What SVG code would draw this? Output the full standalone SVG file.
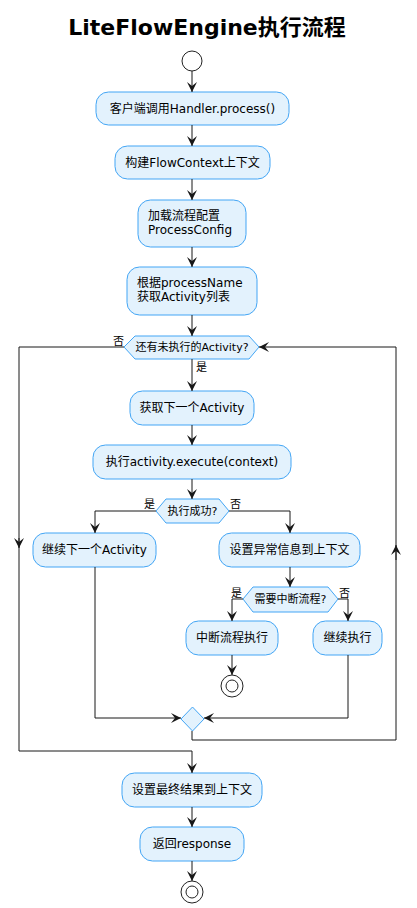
<svg xmlns="http://www.w3.org/2000/svg" width="417" height="908" viewBox="0 0 417 908">
<style>
.box{fill:#E3F2FD;stroke:#42A5F5;stroke-width:1}
.t{font-family:"DejaVu Sans","Noto Sans CJK SC",sans-serif;font-size:12px;fill:#000}
.ht{font-family:"DejaVu Sans","Noto Sans CJK SC",sans-serif;font-size:11px;fill:#000}
.lb{font-family:"DejaVu Sans","Noto Sans CJK SC",sans-serif;font-size:11px;fill:#000}
.c{fill:none;stroke:#181818;stroke-width:1}
.title{font-family:"DejaVu Sans","Noto Sans CJK SC",sans-serif;font-size:22px;font-weight:bold;fill:#000}
</style>
<defs>
<marker id="ah" viewBox="0 0 10 10" refX="10" refY="5" markerWidth="10" markerHeight="10" markerUnits="userSpaceOnUse" orient="auto">
<path d="M10,5 L0,0 L4,5 L0,10 Z" fill="#181818"/>
</marker>
</defs>
<rect width="417" height="908" fill="#fff"/>
<text class="title" x="207" y="35" text-anchor="middle">LiteFlowEngine执行流程</text>

<g id="start"><circle cx="192" cy="61" r="10" fill="#fff" stroke="#222" stroke-width="1"/></g>

<g id="n1"><rect class="box" x="96" y="92" width="193" height="33" rx="12.5"/><text class="t" x="192.5" y="113" text-anchor="middle">客户端调用Handler.process()</text></g>
<g id="n2"><rect class="box" x="115" y="146" width="155" height="33" rx="12.5"/><text class="t" x="192.5" y="167" text-anchor="middle">构建FlowContext上下文</text></g>
<g id="n3"><rect class="box" x="138" y="200" width="108" height="47" rx="12.5"/><text class="t" x="148" y="220">加载流程配置</text><text class="t" x="148" y="234">ProcessConfig</text></g>
<g id="n4"><rect class="box" x="127" y="267" width="130" height="48" rx="12.5"/><text class="t" x="137" y="287">根据processName</text><text class="t" x="137" y="301">获取Activity列表</text></g>
<g id="d1"><polygon class="box" points="124,347 135,336 249,336 259,347 249,359 135,359"/><text class="ht" x="192" y="351" text-anchor="middle">还有未执行的Activity?</text></g>
<g id="n5"><rect class="box" x="130" y="391" width="124" height="34" rx="12.5"/><text class="t" x="192" y="412" text-anchor="middle">获取下一个Activity</text></g>
<g id="n6"><rect class="box" x="93" y="445" width="198" height="34" rx="12.5"/><text class="t" x="192" y="466" text-anchor="middle">执行activity.execute(context)</text></g>
<g id="d2"><polygon class="box" points="156,511 166,499 219,499 229,511 219,523 166,523"/><text class="ht" x="192.5" y="515" text-anchor="middle">执行成功?</text></g>
<g id="n7"><rect class="box" x="33" y="533" width="123" height="34" rx="12.5"/><text class="t" x="94.5" y="554" text-anchor="middle">继续下一个Activity</text></g>
<g id="n8"><rect class="box" x="219" y="533" width="141" height="34" rx="12.5"/><text class="t" x="289.5" y="554" text-anchor="middle">设置异常信息到上下文</text></g>
<g id="d3"><polygon class="box" points="243,599 253,587 328,587 338,599 328,612 253,612"/><text class="ht" x="290.5" y="603" text-anchor="middle">需要中断流程?</text></g>
<g id="n9"><rect class="box" x="186" y="621" width="92" height="34" rx="12.5"/><text class="t" x="232" y="642" text-anchor="middle">中断流程执行</text></g>
<g id="n10"><rect class="box" x="313" y="621" width="69" height="34" rx="12.5"/><text class="t" x="347.5" y="642" text-anchor="middle">继续执行</text></g>
<g id="end1"><circle cx="232" cy="686" r="11" fill="#fff" stroke="#222" stroke-width="1"/><circle cx="232" cy="686" r="6" fill="#fff" stroke="#222" stroke-width="1"/></g>
<g id="merge"><polygon class="box" points="192.5,707 204,719 192.5,731 181,719"/></g>
<g id="n11"><rect class="box" x="122" y="773" width="140" height="34" rx="12.5"/><text class="t" x="192" y="794" text-anchor="middle">设置最终结果到上下文</text></g>
<g id="n12"><rect class="box" x="140" y="827" width="104" height="34" rx="12.5"/><text class="t" x="192" y="848" text-anchor="middle">返回response</text></g>
<g id="end2"><circle cx="192" cy="892" r="11" fill="#fff" stroke="#222" stroke-width="1"/><circle cx="192" cy="892" r="6" fill="#fff" stroke="#222" stroke-width="1"/></g>

<g id="connectors">
<path class="c" d="M192,71 V92" marker-end="url(#ah)"/>
<path class="c" d="M192,125 V146" marker-end="url(#ah)"/>
<path class="c" d="M192,179 V200" marker-end="url(#ah)"/>
<path class="c" d="M192,247 V267" marker-end="url(#ah)"/>
<path class="c" d="M192,315 V336" marker-end="url(#ah)"/>
<path class="c" d="M192,359 V391" marker-end="url(#ah)"/>
<text class="lb" x="196" y="371">是</text>
<path class="c" d="M192,425 V445" marker-end="url(#ah)"/>
<path class="c" d="M192,479 V499" marker-end="url(#ah)"/>
<path class="c" d="M156,511 H95 V533" marker-end="url(#ah)"/>
<text class="lb" x="144" y="508">是</text>
<path class="c" d="M229,511 H290 V533" marker-end="url(#ah)"/>
<text class="lb" x="230" y="508">否</text>
<path class="c" d="M290,567 V587" marker-end="url(#ah)"/>
<path class="c" d="M243,599 H232 V621" marker-end="url(#ah)"/>
<text class="lb" x="231" y="597">是</text>
<path class="c" d="M338,599 H348 V621" marker-end="url(#ah)"/>
<text class="lb" x="339" y="597">否</text>
<path class="c" d="M232,655 V675" marker-end="url(#ah)"/>
<path class="c" d="M95,567 V718 H181" marker-end="url(#ah)"/>
<path class="c" d="M348,655 V718 H204" marker-end="url(#ah)"/>
<path class="c" d="M192,731 V740 H396 V347 H259" marker-end="url(#ah)"/>
<path class="c" d="M396,560 V545" marker-end="url(#ah)"/>
<path class="c" d="M124,347 H19 V751 H192 V773" marker-end="url(#ah)"/>
<path class="c" d="M19,538 V548" marker-end="url(#ah)"/>
<text class="lb" x="113" y="345">否</text>
<path class="c" d="M192,807 V827" marker-end="url(#ah)"/>
<path class="c" d="M192,861 V881" marker-end="url(#ah)"/>
</g>
</svg>
